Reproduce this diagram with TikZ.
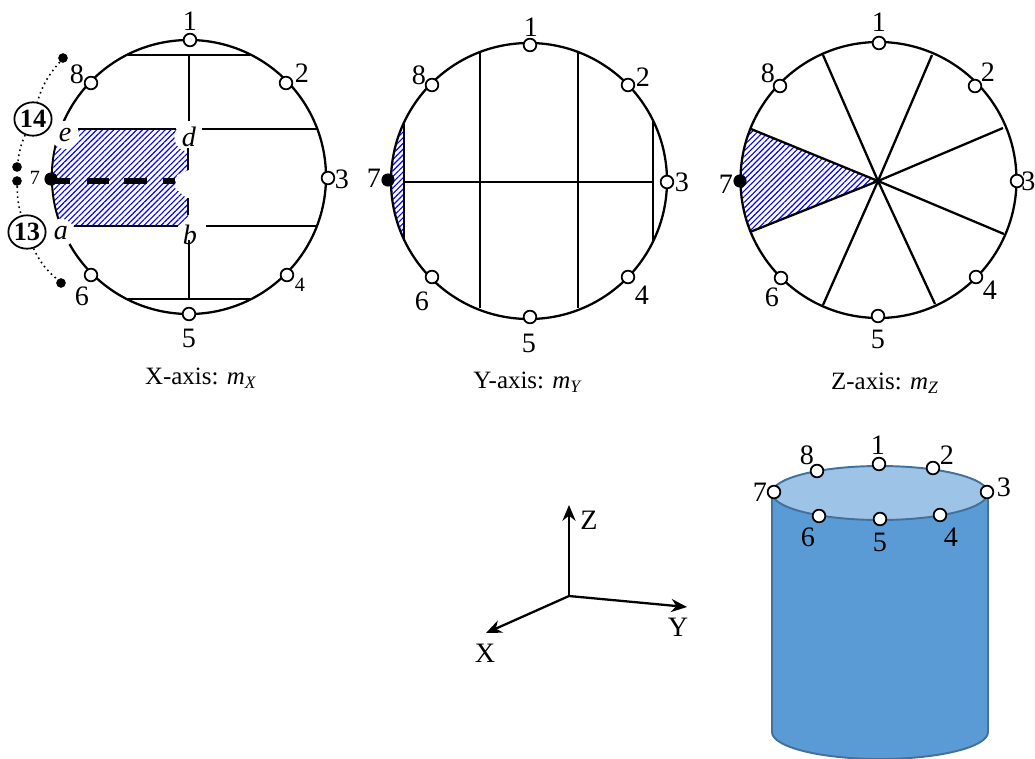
\documentclass[tikz,border=0pt]{standalone}
\usepackage{fontspec}
\setmainfont{Liberation Serif}
\usepackage{xcolor}
\usetikzlibrary{arrows.meta,patterns.meta,shapes.geometric}
\definecolor{cylbody}{HTML}{5B9BD5}
\definecolor{cyltop}{HTML}{9DC3E6}
\definecolor{cylline}{HTML}{41719C}
\tikzset{
  rim/.style={line width=1.3pt},
  bar/.style={line width=1.7pt},
  barb/.style={line width=1.45pt},
  heavy/.style={line width=2.9pt},
  hatch/.style={pattern={Lines[angle=45,distance=2.3pt,line width=0.65pt]},pattern color=blue},
  port/.style={circle,draw,fill=white,line width=1pt,minimum size=7.2pt,inner sep=0pt},
  blk/.style={circle,fill=black,minimum size=7.5pt,inner sep=0pt},
  dot/.style={circle,fill=black,minimum size=5.5pt,inner sep=0pt},
  num/.style={font=\fontsize{16}{16}\selectfont,inner sep=0pt},
  tiny4/.style={font=\fontsize{11.5}{11.5}\selectfont,inner sep=0pt},
  ltr/.style={circle,fill=white,font=\fontsize{16}{16}\selectfont\itshape,inner sep=1pt,minimum size=16pt},
  tag/.style={ellipse,draw,line width=1pt,font=\fontsize{15}{15}\selectfont\bfseries,inner sep=0pt,minimum width=20pt,minimum height=19pt},
  dots/.style={dotted,line width=0.9pt},
  axlab/.style={font=\fontsize{14.2}{14.2}\selectfont,inner sep=0pt},
  axis/.style={line width=1.3pt,-{Stealth[length=9pt,width=7.5pt]}},
  cyl/.style={draw=cylline,line width=1.1pt}
}
\newcommand{\capm}[1]{\textit{m}\textsubscript{\textit{#1}}}

\begin{document}
\begin{tikzpicture}[x=0.02cm,y=-0.02cm]
\useasboundingbox (0,0) rectangle (1035,758);
% X-axis circle
\draw[rim] (189,177) circle (137);
\begin{scope}
\clip (45,129) rectangle (188,226);
\fill[white] (189,177) circle (136);
\fill[hatch] (189,177) circle (136);
\end{scope}
\fill[white] (189,170) -- (177,175) -- (175,188) -- (189,200) -- cycle;
\node[ltr] (e) at (65,135) {e}; \node[ltr] (a) at (61,233) {a};
\node[ltr] (d) at (189,137) {d}; \node[ltr] (b) at (190,235) {b};
\draw[bar] (128,55) -- (250,55); \draw[bar] (128,299) -- (250,299);
\draw[barb] (189,55) -- (189,121); \draw[barb] (188,148) -- (188,170); \draw[barb] (188,198) -- (188,215); \draw[barb] (189,240) -- (189,299);
\draw[bar] (78,129) -- (176,129); \draw[bar] (202,129) -- (318,129);
\draw[bar] (74,226) -- (178,226); \draw[bar] (206,226) -- (318,226);
\draw[heavy] (52,181) -- (70,181); \draw[heavy] (87,181) -- (109,181);
\draw[heavy] (124,181) -- (147,181); \draw[heavy] (163,181) -- (175,181);
\node[port] (xa) at (190,40) {}; \node[num] (la) at (190,21) {1};
\node[port] (xb) at (286,83) {}; \node[num] (lb) at (302,73) {2};
\node[port] (xc) at (328,178) {}; \node[num] (lc) at (342,179) {3};
\node[port] (xd) at (287,275) {}; \node[tiny4] (ld) at (300,285) {4};
\node[port] (xe) at (189,314) {}; \node[num] (le) at (189,338) {5};
\node[port] (xf) at (91,275) {}; \node[num] (lf) at (82,296) {6};
\node[blk] (xg) at (51,179) {}; \node[tiny4] (lg) at (35,178) {7};
\node[port] (xh) at (91,83) {}; \node[num] (lh) at (77,74) {8};
\node[tag] (t14) at (33,119) {14};
\node[tag] (t13) at (27,232) {13};
\node[dot] (da) at (63,58) {}; \node[dot] (db) at (17,167) {};
\node[dot] (dc) at (17,181) {}; \node[dot] (dd) at (61,283) {};
\draw[dots] (da) to[bend right=12] (t14); \draw[dots] (t14) to[bend right=8] (db);
\draw[dots] (dc) to[bend right=8] (t13); \draw[dots] (t13) to[bend right=12] (dd);
\node[axlab] (capx) at (201,378) {X-axis: \capm{X}};
% Y-axis circle
\draw[rim] (529,181) circle (138);
\begin{scope}
\clip (380,100) rectangle (404,260);
\fill[hatch] (529,181) circle (137);
\end{scope}
\draw[barb] (404,124) -- (404,241); \draw[barb] (480,53) -- (480,308);
\draw[barb] (578,53) -- (578,308); \draw[barb] (653,120) -- (653,242);
\draw[bar] (404,182) -- (653,182);
\node[port] (ya) at (530,45) {}; \node[num] (ma) at (531,27) {1};
\node[port] (yb) at (628,85) {}; \node[num] (mb) at (643,77) {2};
\node[port] (yc) at (667,182) {}; \node[num] (mc) at (682,182) {3};
\node[port] (yd) at (628,277) {}; \node[num] (md) at (642,295) {4};
\node[port] (ye) at (530,317) {}; \node[num] (me) at (529,343) {5};
\node[port] (yf) at (432,277) {}; \node[num] (mf) at (422,301) {6};
\node[blk] (yg) at (388,180) {}; \node[num] (mg) at (374,178) {7};
\node[port] (yh) at (432,85) {}; \node[num] (mh) at (419,75) {8};
\node[axlab] (capy) at (528,382) {Y-axis: \capm{Y}};
% Z-axis circle
\begin{scope}
\clip (878,181) -- (751,129) -- (700,129) -- (700,232) -- (750,232) -- cycle;
\fill[hatch] (878.5,180) circle (137);
\end{scope}
\draw[rim] (878.5,180) circle (138);
\coordinate (hub) at (878,181);
\draw[rim] (hub) -- (823,55); \draw[rim] (hub) -- (932,55);
\draw[rim] (hub) -- (1003,128); \draw[rim] (hub) -- (1004,234);
\draw[rim] (hub) -- (935,304); \draw[rim] (hub) -- (823,305);
\draw[rim] (hub) -- (750,232); \draw[rim] (hub) -- (751,129);
\node[port] (za) at (879,43) {}; \node[num] (na) at (879,22) {1};
\node[port] (zb) at (975,86) {}; \node[num] (nb) at (988,72) {2};
\node[port] (zc) at (1017,181) {}; \node[num] (nc) at (1028.5,181) {3};
\node[port] (zd) at (976,277) {}; \node[num] (nd) at (990,290) {4};
\node[port] (ze) at (878,316) {}; \node[num] (ne) at (878,339) {5};
\node[port] (zf) at (781,278) {}; \node[num] (nf) at (772,297) {6};
\node[blk] (zg) at (740,181) {}; \node[num] (ng) at (726,184) {7};
\node[port] (zh) at (780,86) {}; \node[num] (nh) at (768,73) {8};
\node[axlab] (capz) at (885,383) {Z-axis: \capm{Z}};
% axes
\coordinate (org) at (569,596); \coordinate (tz) at (569,505);
\coordinate (ty) at (687,607); \coordinate (tx) at (486,633);
\draw[axis] (org) -- (tz); \draw[axis] (org) -- (ty); \draw[axis] (org) -- (tx);
\node[num] (lz) at (589,520) {Z}; \node[num] (ly) at (678,627) {Y}; \node[num] (lx) at (485,653) {X};
% cylinder
\draw[cyl,fill=cylbody] (772,493) -- (772,732) arc[start angle=180,end angle=0,x radius=108,y radius=27] -- (988,493) -- cycle;
\draw[cyl,fill=cyltop] (880,493) circle[x radius=108,y radius=27];
\node[port] (ca) at (879,464) {}; \node[num] (ua) at (878,445) {1};
\node[port] (cb) at (933,468) {}; \node[num] (ub) at (947,455) {2};
\node[port] (cc) at (987,492) {}; \node[num] (uc) at (1004,487) {3};
\node[port] (cd) at (940,515) {}; \node[num] (ud) at (951,537) {4};
\node[port] (ce) at (880,519) {}; \node[num] (ue) at (880,542) {5};
\node[port] (cf) at (819,516) {}; \node[num] (uf) at (808,537) {6};
\node[port] (cg) at (774,492) {}; \node[num] (ug) at (760,492) {7};
\node[port] (ch) at (817,471) {}; \node[num] (uh) at (807,455) {8};
\end{tikzpicture}
\end{document}
